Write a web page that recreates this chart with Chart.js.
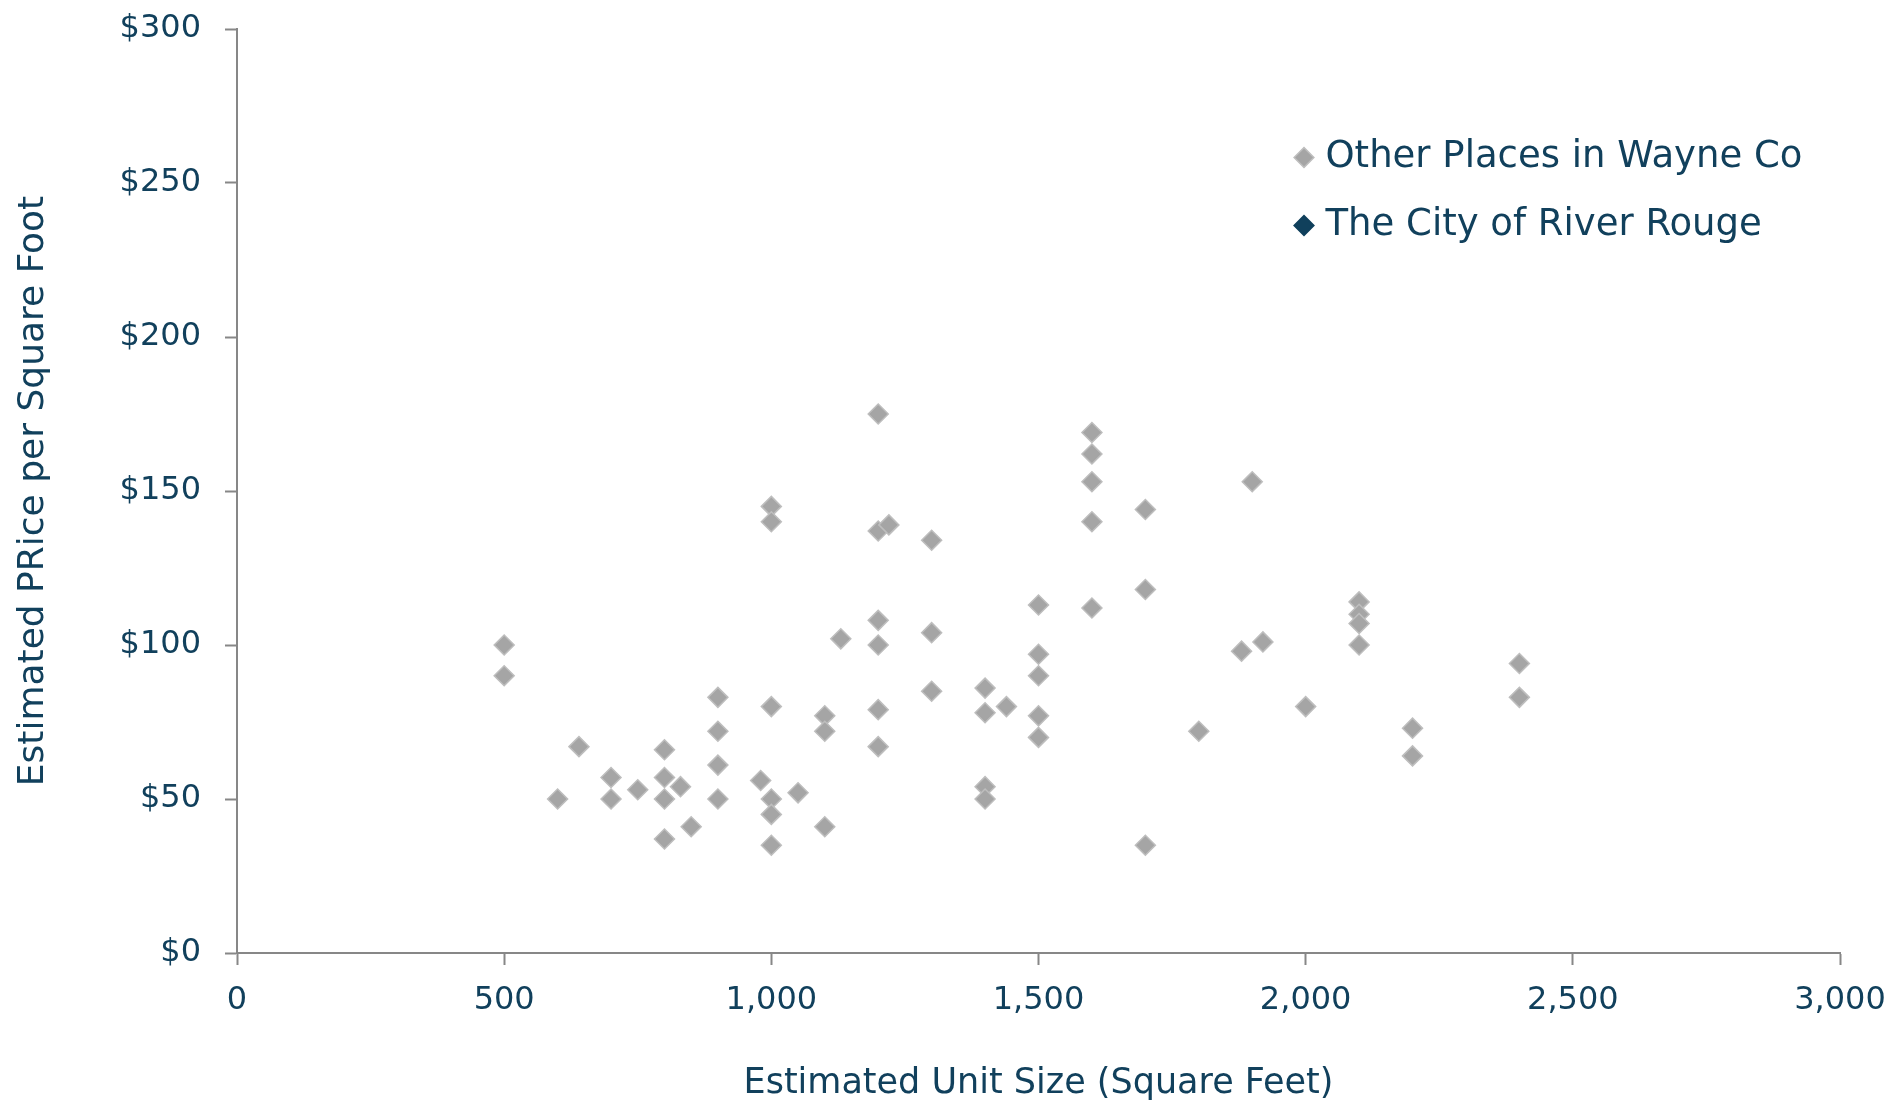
<!DOCTYPE html>
<html>
<head>
<meta charset="utf-8">
<title>Price per Square Foot vs Unit Size</title>
<script src="https://cdn.jsdelivr.net/npm/chart.js@4.4.1/dist/chart.umd.min.js"></script>
<style>
  html, body { margin: 0; padding: 0; background: #ffffff; }
</style>
</head>
<body>
<canvas id="myChart" width="1891" height="1101"></canvas>
<script>
// series names
var seriesNames = ['Other Places in Wayne Co', 'The City of River Rouge'];

// Other Places in Wayne Co: unit size (sq ft) and price per sq ft ($)
var otherSize = [
  500, 500, 600, 640, 700, 700, 750, 800, 800, 800, 800, 830, 850,
  900, 900, 900, 900, 980, 1000, 1000, 1000, 1000, 1000, 1000, 1050,
  1100, 1100, 1100, 1130, 1200, 1200, 1200, 1200, 1200, 1200, 1220,
  1300, 1300, 1300, 1400, 1400, 1400, 1400, 1440, 1500, 1500, 1500,
  1500, 1500, 1600, 1600, 1600, 1600, 1600, 1700, 1700, 1700, 1800,
  1880, 1900, 1920, 2000, 2100, 2100, 2100, 2100, 2200, 2200, 2400, 2400
];
var otherPrice = [
  100, 90, 50, 67, 57, 50, 53, 66, 57, 50, 37, 54, 41,
  83, 72, 61, 50, 56, 145, 140, 80, 50, 45, 35, 52,
  77, 72, 41, 102, 175, 137, 108, 100, 79, 67, 139,
  134, 104, 85, 86, 78, 54, 50, 80, 113, 97, 90,
  77, 70, 169, 162, 153, 140, 112, 144, 118, 35, 72,
  98, 153, 101, 80, 114, 110, 107, 100, 73, 64, 94, 83
];

// The City of River Rouge: no points show in the chart, only in the legend
var rougeSize = [];
var rougePrice = [];

// axis ticks
var sizeTicks = [0, 500, 1000, 1500, 2000, 2500, 3000];
var priceTicks = [0, 50, 100, 150, 200, 250, 300];

function toPoints(xs, ys) {
  return xs.map(function (x, i) { return { x: x, y: ys[i] }; });
}

var textColor = '#11405C';
var axisColor = '#878787';

Chart.defaults.font.family = '"DejaVu Sans", sans-serif';
Chart.defaults.color = textColor;

// put the legend inside the plot, upper right
var legendSpot = {
  id: 'legendSpot',
  afterLayout: function (chart) {
    var lg = chart.legend;
    var area = chart.chartArea;
    lg.left = area.right - 570;
    lg.top = area.top + 79;
    lg.width = 560;
    lg.height = 200;
    lg.right = lg.left + lg.width;
    lg.bottom = lg.top + lg.height;
  }
};

var ctx = document.getElementById('myChart').getContext('2d');
var myChart = new Chart(ctx, {
  type: 'scatter',
  data: {
    datasets: [{
      label: seriesNames[0],
      data: toPoints(otherSize, otherPrice),
      pointStyle: 'rectRot',
      pointRadius: 10,
      pointHoverRadius: 10,
      backgroundColor: '#A5A5A5',
      borderColor: '#BEBEBE',
      borderWidth: 1.5
    }, {
      label: seriesNames[1],
      data: toPoints(rougeSize, rougePrice),
      pointStyle: 'rectRot',
      pointRadius: 10,
      pointHoverRadius: 10,
      backgroundColor: '#10405C',
      borderColor: '#10405C',
      borderWidth: 1.5
    }]
  },
  options: {
    responsive: false,
    animation: false,
    devicePixelRatio: 1,
    layout: {
      padding: { top: 29, right: 50, bottom: 0, left: 0 }
    },
    plugins: {
      legend: {
        position: 'right',
        align: 'start',
        maxWidth: 1,
        labels: {
          usePointStyle: true,
          boxWidth: 6,
          boxHeight: 14,
          padding: 31,
          color: textColor,
          font: { size: 37 }
        }
      },
      tooltip: { enabled: false }
    },
    scales: {
      x: {
        type: 'linear',
        min: sizeTicks[0],
        max: sizeTicks[sizeTicks.length - 1],
        afterFit: function (s) {
          s.height = 148;
          s.paddingLeft = 0;
          s.paddingRight = 0;
        },
        ticks: {
          stepSize: sizeTicks[1] - sizeTicks[0],
          padding: 16,
          color: textColor,
          font: { size: 32 },
          callback: function (v) { return v.toLocaleString('en-US'); }
        },
        grid: {
          drawOnChartArea: false,
          drawTicks: true,
          tickLength: 12,
          tickColor: axisColor,
          tickWidth: 2
        },
        border: { display: true, color: axisColor, width: 2 },
        title: {
          display: true,
          text: 'Estimated Unit Size (Square Feet)',
          color: textColor,
          font: { size: 35, lineHeight: 1 },
          padding: { top: 0, bottom: 0 }
        }
      },
      y: {
        type: 'linear',
        min: priceTicks[0],
        max: priceTicks[priceTicks.length - 1],
        afterFit: function (s) {
          s.width = 237;
          s.paddingTop = 0;
          s.paddingBottom = 0;
        },
        ticks: {
          stepSize: priceTicks[1] - priceTicks[0],
          padding: 24,
          color: textColor,
          font: { size: 32 },
          callback: function (v) { return '$' + v; }
        },
        grid: {
          drawOnChartArea: false,
          drawTicks: true,
          tickLength: 12,
          tickColor: axisColor,
          tickWidth: 2
        },
        border: { display: true, color: axisColor, width: 2 },
        title: {
          display: true,
          text: 'Estimated PRice per Square Foot',
          color: textColor,
          font: { size: 36 },
          padding: { top: 12, bottom: 0 }
        }
      }
    }
  },
  plugins: [legendSpot]
});
</script>
</body>
</html>
